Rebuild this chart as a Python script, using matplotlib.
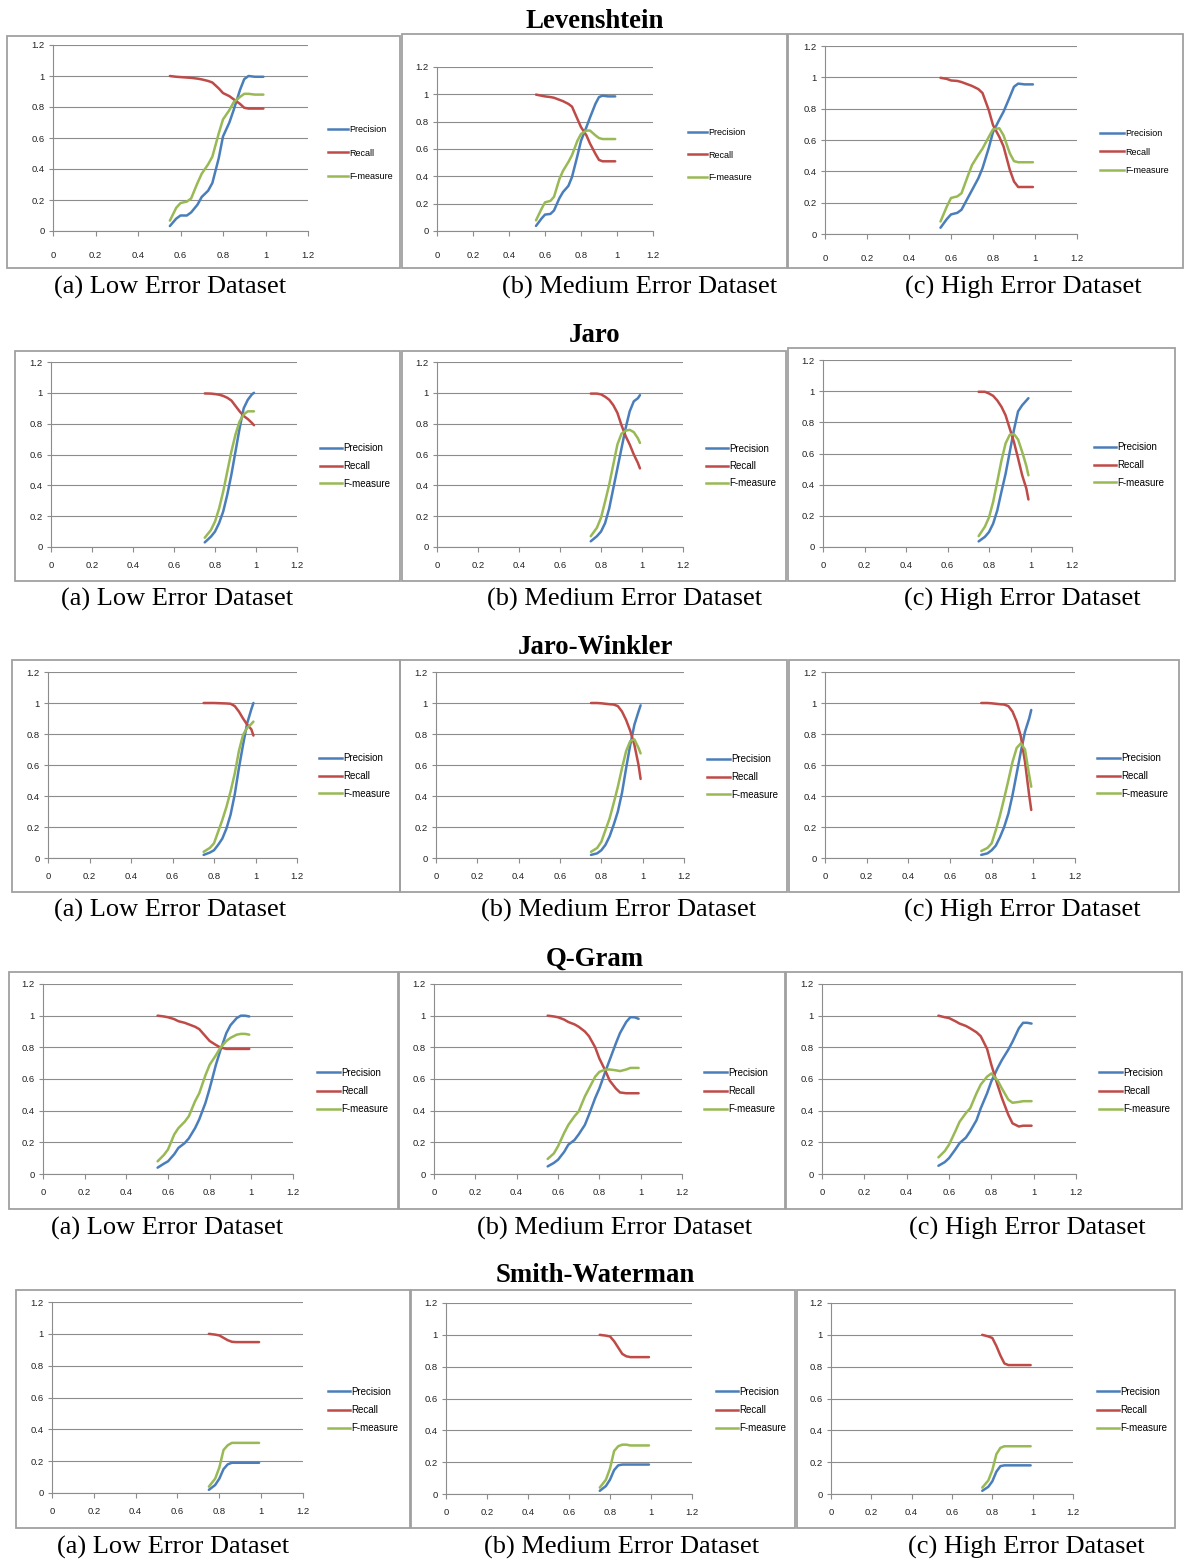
import matplotlib
matplotlib.use("Agg")
import matplotlib.pyplot as plt
from matplotlib.patches import Rectangle
from matplotlib.lines import Line2D

# ---------------- data ----------------
methods = ["Levenshtein", "Jaro", "Jaro-Winkler", "Q-Gram", "Smith-Waterman"]
datasets = ["(a) Low Error Dataset", "(b) Medium Error Dataset", "(c) High Error Dataset"]
series_names = ["Precision", "Recall", "F-measure"]
x_ticks = [0, 0.2, 0.4, 0.6, 0.8, 1, 1.2]
y_ticks = [0, 0.2, 0.4, 0.6, 0.8, 1, 1.2]
tick_labels = ["0", "0.2", "0.4", "0.6", "0.8", "1", "1.2"]

lev_x = [0.55, 0.58, 0.60, 0.63, 0.65, 0.68, 0.70, 0.73, 0.75, 0.78, 0.80, 0.83, 0.85, 0.88, 0.90, 0.92, 0.95, 0.99]
lev_low_precision = [0.032, 0.08, 0.10, 0.10, 0.12, 0.17, 0.22, 0.26, 0.31, 0.47, 0.61, 0.70, 0.78, 0.91, 0.98, 1.0, 0.995, 0.995]
lev_low_recall = [1.0, 0.995, 0.993, 0.99, 0.988, 0.983, 0.978, 0.968, 0.958, 0.92, 0.89, 0.87, 0.85, 0.82, 0.795, 0.79, 0.79, 0.79]
lev_low_fmeasure = [0.067, 0.15, 0.18, 0.19, 0.21, 0.31, 0.37, 0.43, 0.48, 0.63, 0.72, 0.78, 0.83, 0.865, 0.885, 0.885, 0.88, 0.88]
lev_med_precision = [0.037, 0.09, 0.12, 0.125, 0.15, 0.24, 0.285, 0.33, 0.395, 0.55, 0.66, 0.76, 0.83, 0.93, 0.98, 0.99, 0.985, 0.985]
lev_med_recall = [0.998, 0.99, 0.985, 0.98, 0.975, 0.96, 0.95, 0.93, 0.91, 0.82, 0.76, 0.70, 0.64, 0.565, 0.52, 0.51, 0.51, 0.51]
lev_med_fmeasure = [0.078, 0.16, 0.21, 0.22, 0.25, 0.38, 0.44, 0.505, 0.555, 0.66, 0.71, 0.735, 0.735, 0.70, 0.68, 0.673, 0.673, 0.673]
lev_high_precision = [0.04, 0.095, 0.125, 0.135, 0.155, 0.23, 0.28, 0.355, 0.42, 0.55, 0.65, 0.73, 0.78, 0.875, 0.94, 0.96, 0.955, 0.955]
lev_high_recall = [0.997, 0.99, 0.98, 0.977, 0.97, 0.955, 0.945, 0.925, 0.90, 0.79, 0.695, 0.62, 0.56, 0.41, 0.335, 0.30, 0.30, 0.30]
lev_high_fmeasure = [0.08, 0.175, 0.23, 0.24, 0.26, 0.37, 0.44, 0.505, 0.545, 0.62, 0.668, 0.675, 0.63, 0.515, 0.465, 0.458, 0.458, 0.458]

jaro_x = [0.75, 0.78, 0.80, 0.82, 0.84, 0.86, 0.88, 0.90, 0.92, 0.94, 0.96, 0.98, 0.99]
jaro_low_precision = [0.03, 0.067, 0.10, 0.155, 0.23, 0.34, 0.47, 0.62, 0.77, 0.90, 0.955, 0.99, 1.0]
jaro_low_recall = [0.996, 0.995, 0.992, 0.988, 0.98, 0.968, 0.95, 0.915, 0.88, 0.85, 0.83, 0.805, 0.79]
jaro_low_fmeasure = [0.06, 0.11, 0.165, 0.25, 0.36, 0.49, 0.62, 0.73, 0.815, 0.86, 0.88, 0.88, 0.88]
jaro_med_precision = [0.037, 0.07, 0.10, 0.155, 0.25, 0.38, 0.51, 0.64, 0.77, 0.88, 0.945, 0.965, 0.985]
jaro_med_recall = [0.995, 0.995, 0.99, 0.975, 0.955, 0.92, 0.87, 0.79, 0.72, 0.665, 0.60, 0.545, 0.51]
jaro_med_fmeasure = [0.07, 0.125, 0.19, 0.295, 0.405, 0.535, 0.665, 0.735, 0.755, 0.76, 0.745, 0.705, 0.675]
jaro_high_precision = [0.036, 0.065, 0.096, 0.15, 0.235, 0.355, 0.47, 0.61, 0.75, 0.87, 0.91, 0.94, 0.955]
jaro_high_recall = [0.996, 0.996, 0.985, 0.97, 0.94, 0.90, 0.845, 0.76, 0.675, 0.57, 0.46, 0.375, 0.305]
jaro_high_fmeasure = [0.07, 0.13, 0.19, 0.29, 0.42, 0.555, 0.665, 0.72, 0.725, 0.69, 0.61, 0.52, 0.46]

jw_x = [0.75, 0.78, 0.80, 0.82, 0.84, 0.86, 0.88, 0.90, 0.92, 0.94, 0.96, 0.98, 0.99]
jw_low_precision = [0.02, 0.035, 0.05, 0.085, 0.125, 0.19, 0.28, 0.41, 0.58, 0.73, 0.87, 0.96, 1.0]
jw_low_recall = [1.0, 1.0, 1.0, 0.999, 0.998, 0.997, 0.995, 0.98, 0.945, 0.90, 0.86, 0.83, 0.79]
jw_low_fmeasure = [0.04, 0.065, 0.095, 0.17, 0.245, 0.33, 0.43, 0.545, 0.69, 0.795, 0.84, 0.865, 0.88]
jw_med_precision = [0.02, 0.03, 0.05, 0.085, 0.14, 0.215, 0.30, 0.42, 0.58, 0.73, 0.86, 0.945, 0.985]
jw_med_recall = [1.0, 1.0, 0.998, 0.995, 0.992, 0.99, 0.98, 0.945, 0.89, 0.82, 0.73, 0.60, 0.51]
jw_med_fmeasure = [0.04, 0.065, 0.105, 0.18, 0.255, 0.355, 0.46, 0.58, 0.69, 0.755, 0.765, 0.71, 0.675]
jw_high_precision = [0.02, 0.03, 0.05, 0.08, 0.135, 0.20, 0.285, 0.405, 0.545, 0.685, 0.815, 0.90, 0.955]
jw_high_recall = [1.0, 1.0, 0.998, 0.995, 0.992, 0.99, 0.98, 0.945, 0.88, 0.785, 0.62, 0.405, 0.31]
jw_high_fmeasure = [0.045, 0.065, 0.095, 0.18, 0.275, 0.385, 0.50, 0.62, 0.71, 0.74, 0.70, 0.535, 0.46]

qg_x = [0.55, 0.58, 0.60, 0.63, 0.65, 0.68, 0.70, 0.73, 0.75, 0.78, 0.80, 0.83, 0.85, 0.88, 0.90, 0.93, 0.95, 0.97, 0.99]
qg_low_precision = [0.04, 0.065, 0.08, 0.125, 0.165, 0.195, 0.225, 0.29, 0.345, 0.45, 0.54, 0.69, 0.775, 0.89, 0.94, 0.985, 1.0, 1.0, 0.995]
qg_low_recall = [1.0, 0.995, 0.99, 0.978, 0.965, 0.955, 0.945, 0.93, 0.915, 0.87, 0.84, 0.815, 0.80, 0.79, 0.79, 0.79, 0.79, 0.79, 0.79]
qg_low_fmeasure = [0.08, 0.12, 0.155, 0.25, 0.29, 0.33, 0.365, 0.46, 0.51, 0.625, 0.69, 0.75, 0.795, 0.84, 0.86, 0.88, 0.885, 0.885, 0.88]
qg_med_precision = [0.048, 0.07, 0.09, 0.14, 0.185, 0.215, 0.25, 0.31, 0.375, 0.48, 0.54, 0.65, 0.72, 0.825, 0.89, 0.96, 0.99, 0.99, 0.98]
qg_med_recall = [1.0, 0.995, 0.99, 0.975, 0.96, 0.945, 0.93, 0.90, 0.87, 0.80, 0.73, 0.65, 0.59, 0.54, 0.515, 0.51, 0.51, 0.51, 0.51]
qg_med_fmeasure = [0.095, 0.13, 0.175, 0.26, 0.31, 0.365, 0.395, 0.49, 0.54, 0.615, 0.645, 0.66, 0.66, 0.655, 0.65, 0.66, 0.67, 0.67, 0.67]
qg_high_precision = [0.052, 0.075, 0.10, 0.155, 0.195, 0.23, 0.27, 0.34, 0.415, 0.51, 0.585, 0.67, 0.72, 0.785, 0.835, 0.92, 0.955, 0.955, 0.95]
qg_high_recall = [1.0, 0.99, 0.985, 0.965, 0.95, 0.935, 0.92, 0.895, 0.87, 0.79, 0.69, 0.56, 0.48, 0.375, 0.32, 0.30, 0.305, 0.305, 0.305]
qg_high_fmeasure = [0.105, 0.145, 0.185, 0.27, 0.33, 0.385, 0.415, 0.51, 0.565, 0.615, 0.635, 0.59, 0.54, 0.47, 0.45, 0.455, 0.46, 0.46, 0.46]

sw_x = [0.75, 0.78, 0.80, 0.82, 0.84, 0.86, 0.88, 0.90, 0.95, 0.99]
sw_low_precision = [0.02, 0.05, 0.09, 0.15, 0.18, 0.19, 0.19, 0.19, 0.19, 0.19]
sw_low_recall = [1.0, 0.995, 0.99, 0.975, 0.96, 0.95, 0.948, 0.948, 0.948, 0.948]
sw_low_fmeasure = [0.04, 0.09, 0.16, 0.27, 0.30, 0.315, 0.315, 0.315, 0.315, 0.315]
sw_med_precision = [0.02, 0.05, 0.09, 0.15, 0.18, 0.185, 0.185, 0.185, 0.185, 0.185]
sw_med_recall = [1.0, 0.995, 0.99, 0.96, 0.92, 0.88, 0.865, 0.86, 0.86, 0.86]
sw_med_fmeasure = [0.04, 0.09, 0.16, 0.27, 0.30, 0.31, 0.31, 0.305, 0.305, 0.305]
sw_high_precision = [0.02, 0.045, 0.08, 0.14, 0.175, 0.18, 0.18, 0.18, 0.18, 0.18]
sw_high_recall = [1.0, 0.99, 0.98, 0.93, 0.87, 0.82, 0.81, 0.81, 0.81, 0.81]
sw_high_fmeasure = [0.04, 0.085, 0.15, 0.25, 0.29, 0.30, 0.30, 0.30, 0.30, 0.30]

panel_data = [
    [(lev_x, lev_low_precision, lev_low_recall, lev_low_fmeasure),
     (lev_x, lev_med_precision, lev_med_recall, lev_med_fmeasure),
     (lev_x, lev_high_precision, lev_high_recall, lev_high_fmeasure)],
    [(jaro_x, jaro_low_precision, jaro_low_recall, jaro_low_fmeasure),
     (jaro_x, jaro_med_precision, jaro_med_recall, jaro_med_fmeasure),
     (jaro_x, jaro_high_precision, jaro_high_recall, jaro_high_fmeasure)],
    [(jw_x, jw_low_precision, jw_low_recall, jw_low_fmeasure),
     (jw_x, jw_med_precision, jw_med_recall, jw_med_fmeasure),
     (jw_x, jw_high_precision, jw_high_recall, jw_high_fmeasure)],
    [(qg_x, qg_low_precision, qg_low_recall, qg_low_fmeasure),
     (qg_x, qg_med_precision, qg_med_recall, qg_med_fmeasure),
     (qg_x, qg_high_precision, qg_high_recall, qg_high_fmeasure)],
    [(sw_x, sw_low_precision, sw_low_recall, sw_low_fmeasure),
     (sw_x, sw_med_precision, sw_med_recall, sw_med_fmeasure),
     (sw_x, sw_high_precision, sw_high_recall, sw_high_fmeasure)],
]

# ---------------- layout (pixels) ----------------
W, H = 1185, 1562
colors = ["#4A7EBB", "#BE4B48", "#98B954"]
frames = [
    [(7, 36, 400, 268), (402, 34, 787, 268), (788, 34, 1183, 268)],
    [(15, 351, 400, 581), (402, 351, 786, 581), (788, 348, 1175, 581)],
    [(12, 660, 400, 892), (400, 660, 787, 892), (789, 660, 1179, 892)],
    [(9, 972, 398, 1209), (399, 972, 785, 1209), (786, 972, 1182, 1209)],
    [(16, 1290, 410, 1528), (411, 1290, 795, 1528), (797, 1290, 1175, 1528)],
]
axes_px = [
    [(53, 308, 231, 45), (437, 653, 231, 67), (825, 1077, 234, 46)],
    [(51, 297, 547, 362), (437, 683, 547, 362), (823, 1072, 547, 360)],
    [(48, 297, 858, 672), (436, 684, 858, 672), (825, 1075, 858, 672)],
    [(43, 293, 1174, 984), (434, 682, 1174, 984), (822, 1076, 1174, 984)],
    [(52, 303, 1493, 1302), (446, 692, 1494, 1303), (831, 1073, 1494, 1303)],
]
legend_px = [
    [(328, 153, 25, 20), (688, 155, 24.5, 19), (1100, 152, 20, 24)],
    [(320, 466, 19.5, 22), (706, 466, 19, 22), (1094, 465, 19.5, 22)],
    [(319, 776, 19.5, 23), (707, 777, 19.5, 23), (1097, 776, 19.5, 23)],
    [(317, 1091, 20, 23), (704, 1091, 20, 23), (1099, 1091, 20, 23)],
    [(328, 1410, 20, 22), (716, 1410, 20, 22), (1097, 1410, 20, 22)],
]
legend_fs = [6.5, 7.0, 7.0, 7.0, 7.0]
xlabel_pad = [20, 14, 14, 14, 14]
caption_x = [(170, 640, 1023), (177, 625, 1022), (170, 619, 1022), (167, 615, 1027), (173, 622, 1026)]
caption_y = [287, 599, 910, 1228, 1547]
title_y = [22, 336, 647, 959, 1276]

tick_font = ["Liberation Sans Narrow", "Liberation Sans", "DejaVu Sans"]
serif = ["Liberation Serif", "DejaVu Serif"]

fig = plt.figure(figsize=(W / 100, H / 100), dpi=100)
fig.patch.set_facecolor("white")

def fx(px):
    return px / W

def fy(py):
    return 1 - py / H

grid_c = "#8c8c8c"
for r in range(5):
    fig.text(fx(595), fy(title_y[r]), methods[r], ha="center", va="center",
             fontsize=19.3, fontweight="bold", family=serif)
    for c in range(3):
        x0, y0, x1, y1 = frames[r][c]
        fig.patches.append(Rectangle((fx(x0), fy(y1)), fx(x1) - fx(x0), fy(y0) - fy(y1),
                                     transform=fig.transFigure, fill=False,
                                     edgecolor="#a0a0a0", linewidth=1.3, zorder=0))
        ax0, ax12, ay0, ay12 = axes_px[r][c]
        ax = fig.add_axes([fx(ax0), fy(ay0), fx(ax12) - fx(ax0), fy(ay12) - fy(ay0)])
        ax.set_xlim(0, 1.2)
        ax.set_ylim(0, 1.2)
        ax.patch.set_alpha(0)
        for s in ["top", "right"]:
            ax.spines[s].set_visible(False)
        for s in ["left", "bottom"]:
            ax.spines[s].set_color(grid_c)
            ax.spines[s].set_linewidth(0.8)
        ax.set_xticks(x_ticks)
        ax.set_xticklabels(tick_labels)
        ax.set_yticks(y_ticks)
        ax.set_yticklabels(tick_labels)
        ax.tick_params(axis="x", length=3.5, width=0.8, color=grid_c, pad=xlabel_pad[r] * 0.72 - 3.5,
                       labelsize=6.8, labelcolor="#222222")
        ax.tick_params(axis="y", length=3, width=0.8, color=grid_c, pad=3,
                       labelsize=6.8, labelcolor="#222222")
        for lab in ax.get_xticklabels() + ax.get_yticklabels():
            lab.set_family(tick_font)
        ax.grid(axis="y", color=grid_c, linewidth=0.8)
        ax.set_axisbelow(True)

        xs, p, rc, f = panel_data[r][c]
        for vals, col, name in zip((p, rc, f), colors, series_names):
            ax.plot(xs, vals, color=col, linewidth=1.8, label=name, clip_on=False,
                    solid_joinstyle="round", solid_capstyle="round")

        lx, ly, pitch, hl = legend_px[r][c]
        fs = legend_fs[r]
        fs_px = fs * 100 / 72
        ax.legend(handles=[Line2D([], [], color=col, linewidth=1.8) for col in colors],
                  labels=series_names, loc="center left",
                  bbox_to_anchor=(fx(lx), fy(ly)), bbox_transform=fig.transFigure,
                  frameon=False, borderpad=0, borderaxespad=0,
                  handlelength=hl / fs_px, handletextpad=0.1,
                  labelspacing=pitch / fs_px - 1.2,
                  prop={"family": tick_font, "size": fs})

        fig.text(fx(caption_x[r][c]), fy(caption_y[r]), datasets[c], ha="center", va="center",
                 fontsize=19.0, family=serif)

fig.savefig("out.png", dpi=100, facecolor="white")
